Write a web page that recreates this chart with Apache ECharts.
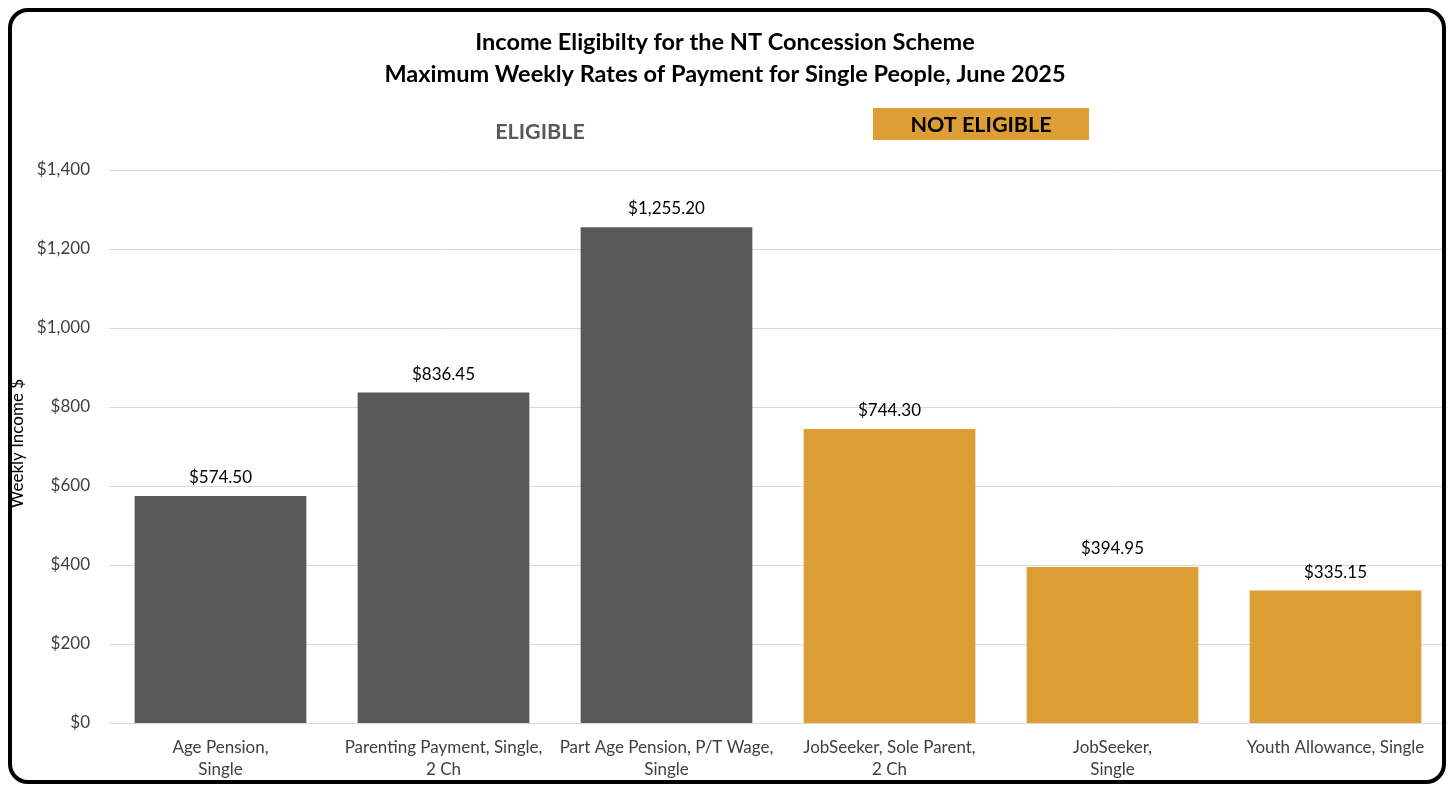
<!DOCTYPE html>
<html>
<head>
<meta charset="utf-8">
<style>
html,body{margin:0;padding:0;background:#fff;}
#chart{width:1450px;height:785px;}
</style>
<script src="https://cdn.jsdelivr.net/npm/echarts@6/dist/echarts.min.js"></script>
</head>
<body>
<div id="chart"></div>
<script>
const categories = [
  'Age Pension,\nSingle',
  'Parenting Payment, Single,\n2 Ch',
  'Part Age Pension, P/T Wage,\nSingle',
  'JobSeeker, Sole Parent,\n2 Ch',
  'JobSeeker,\nSingle',
  'Youth Allowance, Single'
];
const weeklyIncome = [574.50, 836.45, 1255.20, 744.30, 394.95, 335.15];
const status = ['Eligible', 'Eligible', 'Eligible', 'Not eligible', 'Not eligible', 'Not eligible'];
const yTicks = { min: 0, max: 1400, interval: 200 };
const titleLines = ['Income Eligibilty for the NT Concession Scheme', 'Maximum Weekly Rates of Payment for Single People, June 2025'];
const groupLabels = ['ELIGIBLE', 'NOT ELIGIBLE'];

const FONT = 'Lato, "Open Sans", sans-serif';
const GRAY = '#595959';
const ORANGE = '#DE9E36';

function money(v, dec) {
  return '$' + v.toLocaleString('en-US', { minimumFractionDigits: dec, maximumFractionDigits: dec });
}

const chart = echarts.init(document.getElementById('chart'));
chart.setOption({
  backgroundColor: '#fff',
  animation: false,
  title: {
    text: titleLines.join('\n'),
    left: 'center',
    top: 21,
    textStyle: { fontFamily: FONT, fontSize: 23.5, fontWeight: 'bold', color: '#000', lineHeight: 32 }
  },
  grid: { left: 109, right: 3, top: 170, bottom: 62, containLabel: false },
  xAxis: {
    type: 'category',
    data: categories,
    axisLine: { show: true, lineStyle: { color: '#d9d9d9', width: 1 } },
    axisTick: { show: false },
    axisLabel: { interval: 0, margin: 14, fontFamily: FONT, fontSize: 17, color: '#404040', lineHeight: 22 }
  },
  yAxis: {
    type: 'value',
    min: yTicks.min, max: yTicks.max, interval: yTicks.interval,
    name: 'Weekly Income $',
    nameLocation: 'middle',
    nameGap: 77,
    nameTextStyle: { fontFamily: FONT, fontSize: 17, color: '#000', padding: [0, 0, 0, 6] },
    axisLine: { show: false },
    axisTick: { show: false },
    splitLine: { lineStyle: { color: '#d9d9d9', width: 1 } },
    axisLabel: { margin: 19, fontFamily: FONT, fontSize: 17, color: '#404040', formatter: v => money(v, 0) }
  },
  series: [{
    type: 'bar',
    data: weeklyIncome,
    barCategoryGap: '23%',
    itemStyle: { color: p => status[p.dataIndex] === 'Eligible' ? GRAY : ORANGE },
    label: {
      show: true, position: 'top', distance: 10,
      fontFamily: FONT, fontSize: 17, color: '#000',
      formatter: p => money(p.value, 2)
    }
  }],
  graphic: [
    {
      type: 'text', x: 540, y: 132,
      style: { text: groupLabels[0], font: 'bold 21.5px ' + FONT, fill: GRAY, align: 'center', verticalAlign: 'middle' }
    },
    {
      type: 'rect', x: 873, y: 108, shape: { width: 216, height: 32 },
      style: { fill: ORANGE }
    },
    {
      type: 'text', x: 981, y: 125,
      style: { text: groupLabels[1], font: 'bold 21.5px ' + FONT, fill: '#000', align: 'center', verticalAlign: 'middle' }
    },
    {
      type: 'rect', x: 10, y: 10, z: 100,
      shape: { width: 1434, height: 772, r: 18 },
      style: { fill: 'none', stroke: '#000', lineWidth: 4 }
    }
  ]
});
</script>
</body>
</html>
